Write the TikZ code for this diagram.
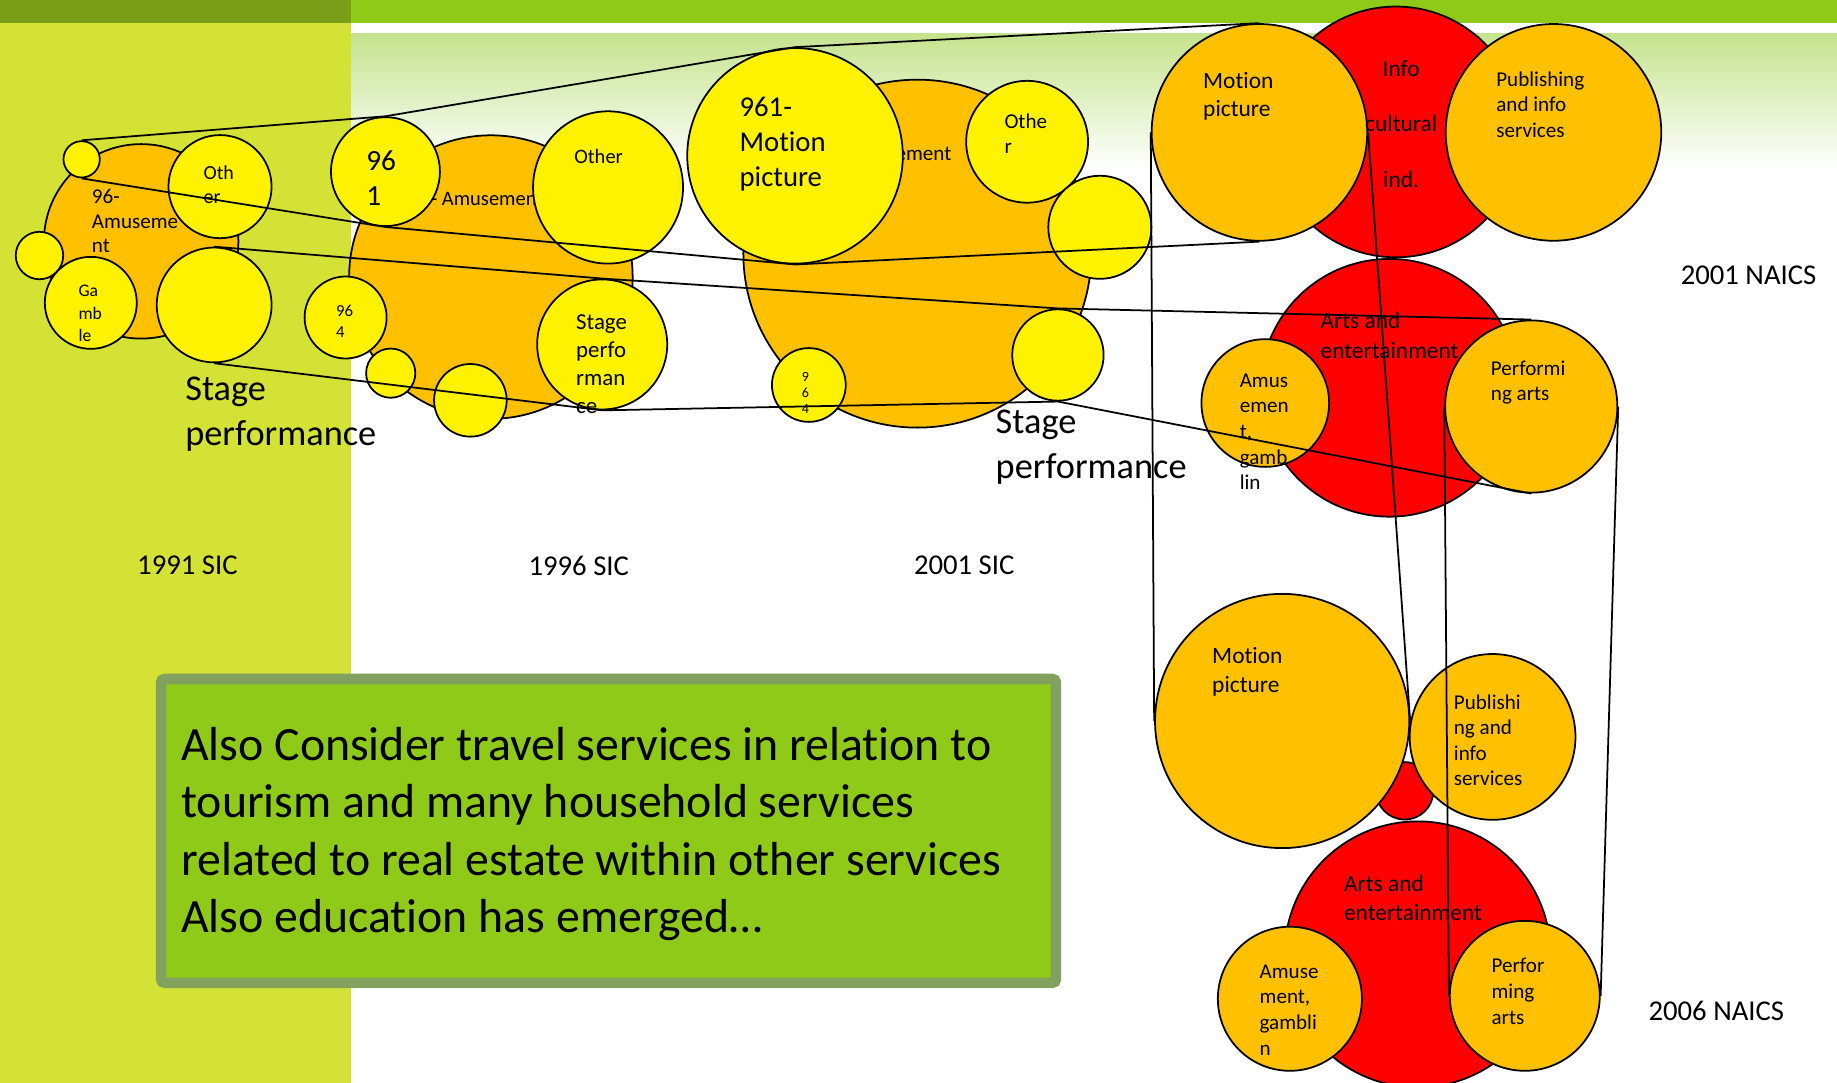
\documentclass[tikz,border=0pt]{standalone}
\usepackage{fontspec}
\setmainfont{Carlito}[Ligatures={NoCommon}]
\usetikzlibrary{shapes.geometric}

\definecolor{barlime}{HTML}{8FCA19}
\definecolor{bardark}{HTML}{7A9E18}
\definecolor{panel}{HTML}{D4E236}
\definecolor{fade}{HTML}{C5E38E}
\definecolor{boxrim}{HTML}{82A05E}
\definecolor{amber}{HTML}{FFC000}

\newcommand{\fsz}[2]{\fontsize{#1pt}{#2pt}\selectfont}

\tikzstyle{bubble} = [ellipse, draw=black, line width=1.5pt, inner sep=0pt]
\tikzstyle{yel} = [bubble, fill=yellow]
\tikzstyle{org} = [bubble, fill=amber]
\tikzstyle{rd} = [bubble, fill=red]
% multi-line labels sit on the baseline of their last line
\tikzstyle{lbl} = [inner sep=0pt, align=left, anchor=base west]
\tikzstyle{title} = [inner sep=0pt, font=\fsz{24.5}{29}]
\tikzstyle{link} = [line width=1.5pt]

\begin{document}
\begin{tikzpicture}[x=1pt, y=-1pt]

\useasboundingbox (0,0) rectangle (1568,924);

% background: bar, side panel, fading band
\fill[white] (0,0) rectangle (1568,924);
\fill[panel] (0,19.4) rectangle (300,924);
\fill[bardark] (0,0) rectangle (300,19.4);
\fill[barlime] (300,0) rectangle (1568,19.4);
\shade[top color=fade, bottom color=white] (300,28.5) rectangle (1568,145);

% note box
\node (note) [draw=boxrim, line width=9pt, fill=barlime, rounded corners=3pt,
    minimum width=763.7pt, minimum height=259.3pt, inner sep=0pt] at (519.4,709.2) {};
\node (notetext) [lbl, font=\fsz{40.8}{49}] at (154.5,796.2)
{Also Consider travel services in relation to\\tourism and many household services\\related to real estate within other services\\Also education has emerged…};

% 1991 SIC
\node (a91) [org, minimum size=166pt] at (120.5,206) {};
\node (t91a) [lbl, font=\fsz{18}{21.2}] at (78.3,215.9) {96-\\Amuseme\\nt};
\node (s91) [yel, minimum size=31pt] at (69.7,136) {};
\node (o91) [yel, minimum size=88pt] at (187.8,159.3) {};
\node (t91o) [lbl, font=\fsz{17}{20}] at (173.6,173.6) {Oth\\er};
\node (l91) [yel, minimum size=40.5pt] at (33.7,218.1) {};
\node (g91) [yel, minimum size=78.5pt] at (77.5,258.5) {};
\node (t91g) [lbl, font=\fsz{15}{19.2}] at (66.9,291.6) {Ga\\mb\\le};
\node (st91) [yel, minimum size=98pt] at (182.8,260.3) {};

% 1996 SIC
\node (a96) [org, minimum size=242pt] at (419,236.5) {};
\node (t96a) [lbl, font=\fsz{17.5}{21}] at (350,175.8) {96- Amusement};
\node (n96) [yel, minimum size=93pt] at (329,146.5) {};
\node (t96n) [lbl, font=\fsz{25}{29.5}] at (312.5,175.2) {96\\1};
\node (o96) [yel, minimum width=128pt, minimum height=130pt] at (519,160) {};
\node (t96o) [lbl, font=\fsz{17.5}{21}] at (490,139.4) {Other};
\node (f96) [yel, minimum size=70pt] at (295,271) {};
\node (t96f) [lbl, font=\fsz{14.3}{17.7}] at (286.6,288) {96\\4};
\node (p96) [yel, minimum size=42pt] at (333.5,318.5) {};
\node (b96) [yel, minimum size=62pt] at (401.5,341.7) {};
\node (st96) [yel, minimum size=111pt] at (514,294) {};
\node (t96s) [lbl, font=\fsz{19.5}{24}] at (491.6,353) {Stage\\perfo\\rman\\ce};

% 2001 SIC
\node (a01) [org, minimum size=297pt] at (783,216.5) {};
\node (t01a) [lbl, anchor=base east, font=\fsz{18}{21}] at (812.2,137.1) {96- Amusement};
\node (m01) [yel, minimum size=184pt] at (678.6,133) {};
\node (t01m) [lbl, font=\fsz{24.5}{29.9}] at (631.1,159.4) {961-\\Motion\\picture};
\node (o01) [yel, minimum size=104pt] at (876.7,121) {};
\node (t01o) [lbl, font=\fsz{18}{21.4}] at (857.2,130.9) {Othe\\r};
\node (r01) [yel, minimum size=88pt] at (938.8,194) {};
\node (st01) [yel, minimum size=78pt] at (903,303) {};
\node (f01) [yel, minimum size=63pt] at (690.4,328.6) {};
\node (t01f) [lbl, font=\fsz{12}{13.6}] at (684.2,353) {9\\6\\4};

% 2001 NAICS
\node (i1) [rd, minimum size=214pt] at (1191.5,112.6) {};
\node (mn1) [org, minimum width=184pt, minimum height=185pt] at (1075,113) {};
\node (pb1) [org, minimum width=184pt, minimum height=185pt] at (1326,113) {};
\node (tn1i) [inner sep=0pt, align=center, anchor=base, font=\fsz{20}{23.6}] at (1196,159.7)
{Info\\[23.6pt]cultural\\[23.6pt]ind.};
\node (tn1m) [lbl, font=\fsz{20}{24}] at (1026.8,99.8) {Motion\\picture};
\node (tn1p) [lbl, font=\fsz{18}{21.5}] at (1277,117) {Publishing\\and info\\services};
\node (ae1) [rd, minimum size=220pt] at (1186,331) {};
\node (ag1) [org, minimum size=109pt] at (1080,344) {};
\node (pa1) [org, minimum size=147pt] at (1307,347) {};
\node (tn1a) [lbl, font=\fsz{20}{25}] at (1127,305.7) {Arts and\\entertainment};
\node (tn1g) [lbl, font=\fsz{18}{21.8}] at (1058,417.9) {Amus\\emen\\t,\\gamb\\lin};
\node (tn1r) [lbl, font=\fsz{18}{21.5}] at (1272.4,341.9) {Performi\\ng arts};

% 2006 NAICS
\node (sr6) [rd, minimum size=49pt] at (1199,675) {};
\node (mn6) [org, minimum size=217pt] at (1094.4,615.4) {};
\node (pb6) [org, minimum size=141.5pt] at (1274,629) {};
\node (tn6m) [lbl, font=\fsz{20}{24.3}] at (1034.5,591) {Motion\\picture};
\node (tn6p) [lbl, font=\fsz{18}{21.8}] at (1240.8,670.6) {Publishi\\ng and\\info\\services};
\node (ae6) [rd, minimum size=227pt] at (1210,814.6) {};
\node (ag6) [org, minimum size=123pt] at (1101,852.5) {};
\node (pa6) [org, minimum size=128pt] at (1301.5,850) {};
\node (tn6a) [lbl, font=\fsz{20}{25.2}] at (1147,786) {Arts and\\entertainment};
\node (tn6g) [lbl, font=\fsz{18}{22}] at (1075,900.8) {Amuse\\ment,\\gambli\\n};
\node (tn6r) [lbl, font=\fsz{18}{22}] at (1273,874.3) {Perfor\\ming\\arts};

% captions
\node (sic91) [title] at (160,482.7) {1991 SIC};
\node (sic96) [title] at (494,482.7) {1996 SIC};
\node (sic01) [title] at (823,482.7) {2001 SIC};
\node (naics01) [title] at (1492.5,235) {2001 NAICS};
\node (naics06) [title] at (1465,862.8) {2006 NAICS};
\node (stage91) [lbl, font=\fsz{31}{38.5}] at (158,380) {Stage\\performance};
\node (stage01) [lbl, font=\fsz{31}{38.5}] at (849.7,408.5) {Stage\\performance};

% motion picture thread
\draw [link] (s91.north) -- (n96.north) -- (m01.north) -- (mn1.north);
\draw [link] (s91.south) -- (n96.south) -- (m01.south) -- (mn1.south);
\draw [link] (mn1.west) -- (mn6.west);
\draw [link] (mn1.east) -- (mn6.east);

% stage performance thread
\draw [link] (st91.north) -- (st96.north) -- (st01.north) -- (pa1.north);
\draw [link] (st91.south) -- (st96.south) -- (st01.south) -- (pa1.south);
\draw [link] (pa1.west) -- (pa6.west);
\draw [link] (pa1.east) -- (pa6.east);

\end{tikzpicture}
\end{document}
